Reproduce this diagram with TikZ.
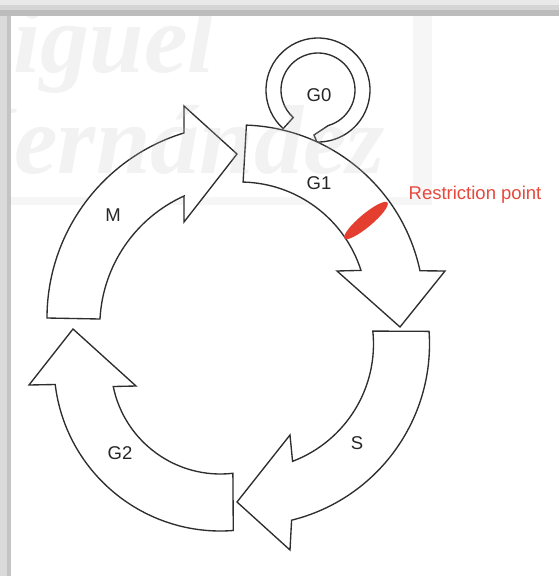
\documentclass[tikz,border=0pt]{standalone}
\usepackage{fontspec}
\setmainfont{Liberation Sans}
\newfontfamily\wmfont{Liberation Serif}
\usetikzlibrary{calc}
\definecolor{bandA}{HTML}{E9E9E9}
\definecolor{bandB}{HTML}{D5D5D5}
\definecolor{bandC}{HTML}{BCBCBC}
\definecolor{bandL}{HTML}{DADADA}
\definecolor{bandLd}{HTML}{C4C4C4}
\definecolor{boxedge}{HTML}{F6F6F6}
\definecolor{rpred}{RGB}{228,62,48}
\definecolor{rptext}{RGB}{232,72,60}
\begin{document}
\begin{tikzpicture}[x=1pt,y=1pt,
  arrowshape/.style={draw=black!82, fill=white, line width=1.35pt, line join=miter},
  lbl/.style={text=black!85, font=\fontsize{18.5}{22}\selectfont, inner sep=0pt},
  wm/.style={text=black!25, text opacity=0.2, font=\fontsize{98}{100}\selectfont\wmfont\itshape\bfseries, inner sep=0pt, anchor=base west}
]
\useasboundingbox (0,0) rectangle (559,-576);
\fill[white] (0,0) rectangle (559,-576);
% faint watermark box edges
\fill[boxedge] (413,-16) rectangle (432,-205);
\fill[boxedge] (11,-197) rectangle (432,-205);

% centres
\coordinate (c0) at (318,-90);
\coordinate (c1) at (240,-309);
\coordinate (c2) at (248,-344);
\coordinate (c3) at (220.5,-364.5);
\coordinate (c4o) at (240.5,-318);
\coordinate (c4i) at (243,-326.5);

% G0 loop (partly hidden by G1)
\path[arrowshape] ($(c0)+(228:52)$) arc[start angle=228, end angle=-95, radius=52]
  -- (321,-152) -- (314,-135) -- ($(c0)+(-74:37)$)
  arc[start angle=-74, end angle=228, radius=37] -- cycle;

% G1
\path[arrowshape] ($(c1)+(88:184)$) arc[start angle=88, end angle=12, radius=184]
  -- (445,-271) -- (400,-327) -- (337,-271) -- ($(c1)+(17.7:127)$)
  arc[start angle=17.7, end angle=88.6, radius=127] -- cycle;

% S
\path[arrowshape] ($(c2)+(4:181.5)$) arc[start angle=4, end angle=-76.1, radius=181.5]
  -- (290,-550) -- (237,-502) -- (290,-435) -- ($(c2)+(-69.2:125.5)$)
  arc[start angle=-69.2, end angle=5.9, radius=125.5] -- cycle;

% G2
\path[arrowshape] ($(c3)+(-85.6:166.5)$) arc[start angle=-85.6, end angle=-173.1, radius=166.5]
  -- (29,-385) -- (73,-329) -- (136,-386) -- ($(c3)+(-168.4:109.5)$)
  arc[start angle=-168.4, end angle=-83.5, radius=109.5] -- cycle;

% M
\path[arrowshape] ($(c4o)+(180:193.5)$) arc[start angle=180, end angle=107, radius=193.5]
  -- (184,-106) -- (237,-154) -- (184,-222) -- ($(c4i)+(114.3:143.2)$)
  arc[start angle=114.3, end angle=177, radius=143.2] -- cycle;

% restriction point
\fill[rpred] (366,-220.5) ellipse[x radius=28, y radius=6.5, rotate=40];

% labels
\node[lbl] (g0) at (319,-95) {G0};
\node[lbl] (g1) at (319,-183) {G1};
\node[lbl] (m) at (113,-215) {M};
\node[lbl] (g2) at (120,-453) {G2};
\node[lbl] (s) at (357,-443) {S};
\node[lbl, text=rptext] (rp) at (475,-195) {Restriction point};

% watermark
\begin{scope}
\clip (0,0) rectangle (432,-206);
\node[wm] (wm1) at (-74,-72) {Miguel};
\node[wm] (wm2) at (-62,-173) {Hernández};
\end{scope}

% frame
\fill[bandA] (0,0) rectangle (559,-5);
\fill[bandB] (0,-5) rectangle (559,-10);
\fill[bandC] (0,-10) rectangle (559,-16);
\fill[bandL] (0,-16) rectangle (7,-576);
\fill[bandLd] (7,-16) rectangle (11,-576);
\end{tikzpicture}
\end{document}
